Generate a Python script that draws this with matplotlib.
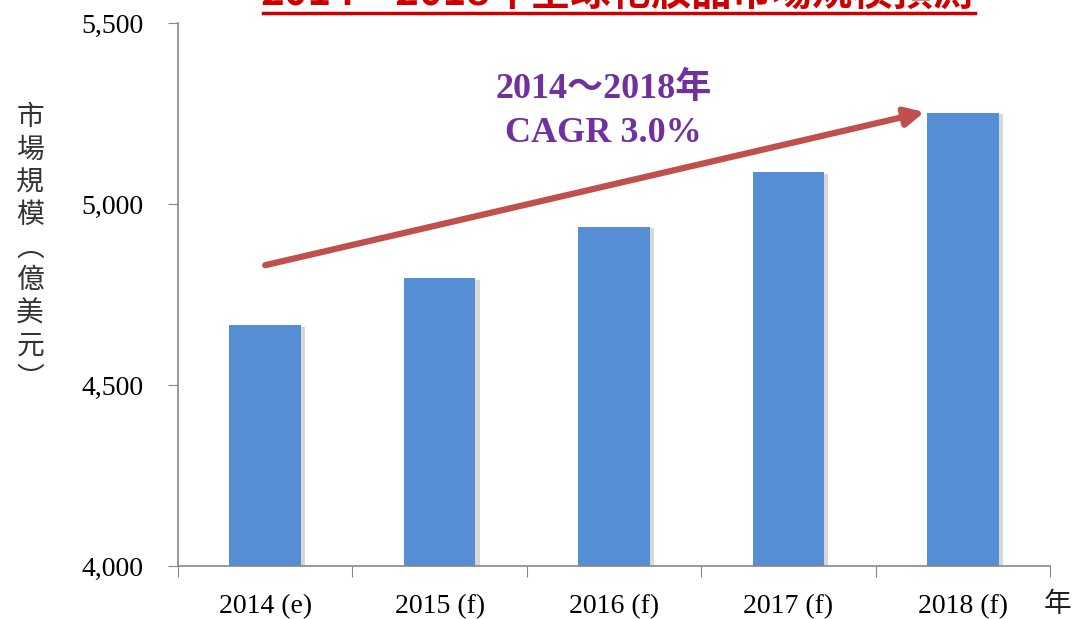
import matplotlib.pyplot as plt
import matplotlib.patheffects as pe
from matplotlib.lines import Line2D

years = ['2014 (e)', '2015 (f)', '2016 (f)', '2017 (f)', '2018 (f)']
market = [4665, 4795, 4937, 5088, 5252]
y_ticks = [4000, 4500, 5000, 5500]

serif = ['Liberation Serif', 'Noto Sans CJK TC']
cjk = ['Noto Sans CJK TC', 'DejaVu Sans']

fig = plt.figure(figsize=(10.74, 6.19), dpi=100)
ax = fig.add_axes([0.1657, 0.0856, 0.812, 0.8772])

x = list(range(len(years)))
bars = ax.bar(x, market, width=0.41, color='#558ED5', zorder=2)
for b in bars:
    b.set_path_effects([pe.SimplePatchShadow(offset=(3, -1), shadow_rgbFace='#aaaaaa', alpha=0.45), pe.Normal()])

ax.set_xlim(-0.5, len(years) - 0.5)
ax.set_ylim(4000, 5500)
ax.set_yticks(y_ticks)
ax.set_yticklabels([f'{v:,}' for v in y_ticks], fontfamily=serif, fontsize=20)

# ticks at category borders, labels at centres
ax.set_xticks([i - 0.5 for i in range(len(years) + 1)])
ax.set_xticklabels([])
ax.set_xticks(x, minor=True)
ax.set_xticklabels(years, minor=True, fontfamily=serif, fontsize=20)
ax.tick_params(axis='x', which='minor', length=0, pad=20)
ax.tick_params(axis='x', which='major', length=8, color='#888888', direction='out')
ax.tick_params(axis='y', length=7, color='#888888', pad=18)

for s in ['top', 'right']:
    ax.spines[s].set_visible(False)
for s in ['left', 'bottom']:
    ax.spines[s].set_color('#888888')
    ax.spines[s].set_linewidth(1.2)

# trend arrow
ax.annotate('', xy=(3.78, 5254), xytext=(0.0, 4831),
            arrowprops=dict(arrowstyle='-|>', color='#C0504D', lw=4.5,
                            mutation_scale=28, shrinkA=0, shrinkB=0),
            zorder=3)
ax.text(1.94, 5258, '2014～2018年\nCAGR 3.0%', ha='center', va='center',
        fontfamily=serif, fontsize=26, fontweight='bold', color='#7030A0',
        linespacing=1.45)

# vertical y label
ylab = '市場規模︵億美元︶'
fig.text(0.028, 0.6, '\n'.join(ylab), ha='center', va='center',
         fontfamily=cjk, fontsize=20, color='#333333', linespacing=1.12)

fig.text(0.985, 0.025, '年', ha='center', va='center', fontfamily=cjk,
         fontsize=20, color='#222222')

# title, partly cut off at the top like the reference
fig.text(0.575, 1 - 5 / 619, '2014～2018年全球化妝品市場規模預測', ha='center',
         va='baseline', fontfamily=cjk, fontsize=29, fontweight='bold',
         color='#CC0000')
fig.add_artist(Line2D([263 / 1074, 975 / 1074], [1 - 13 / 619, 1 - 13 / 619],
                      color='#CC0000', lw=2.5))

fig.savefig('out.png', dpi=100)
